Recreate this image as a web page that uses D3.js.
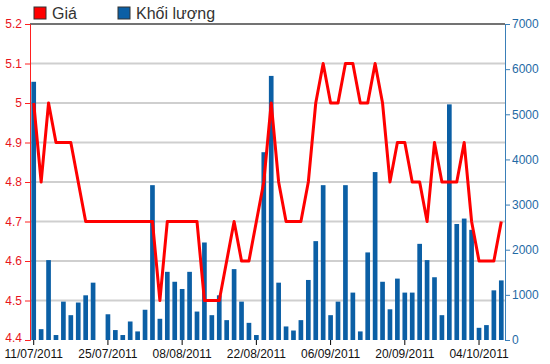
<!DOCTYPE html>
<html>
<head>
<meta charset="utf-8">
<script src="https://cdn.jsdelivr.net/npm/d3@7"></script>
<style>
  body { margin: 0; background: #fff; }
  svg { font-family: "Liberation Sans", Arial, sans-serif; }
</style>
</head>
<body>
<div id="chart"></div>
<script>
// trading days shown on the chart
const dates = [
  '11/07/2011','12/07/2011','13/07/2011','14/07/2011','15/07/2011',
  '18/07/2011','19/07/2011','20/07/2011','21/07/2011','22/07/2011',
  '25/07/2011','26/07/2011','27/07/2011','28/07/2011','29/07/2011',
  '01/08/2011','02/08/2011','03/08/2011','04/08/2011','05/08/2011',
  '08/08/2011','09/08/2011','10/08/2011','11/08/2011','12/08/2011',
  '15/08/2011','16/08/2011','17/08/2011','18/08/2011','19/08/2011',
  '22/08/2011','23/08/2011','24/08/2011','25/08/2011','26/08/2011',
  '29/08/2011','30/08/2011','31/08/2011','01/09/2011','05/09/2011',
  '06/09/2011','07/09/2011','08/09/2011','09/09/2011','12/09/2011',
  '13/09/2011','14/09/2011','15/09/2011','16/09/2011','19/09/2011',
  '20/09/2011','21/09/2011','22/09/2011','23/09/2011','26/09/2011',
  '27/09/2011','28/09/2011','29/09/2011','30/09/2011','03/10/2011',
  '04/10/2011','05/10/2011','06/10/2011','07/10/2011'
];
const tickDates = ['11/07/2011','25/07/2011','08/08/2011','22/08/2011','06/09/2011','20/09/2011','04/10/2011'];

const price = [
  5.0, 4.8, 5.0, 4.9, 4.9, 4.9, 4.8, 4.7, 4.7, 4.7,
  4.7, 4.7, 4.7, 4.7, 4.7, 4.7, 4.7, 4.5, 4.7, 4.7,
  4.7, 4.7, 4.7, 4.5, 4.5, 4.5, 4.6, 4.7, 4.6, 4.6,
  4.7, 4.8, 5.0, 4.8, 4.7, 4.7, 4.7, 4.8, 5.0, 5.1,
  5.0, 5.0, 5.1, 5.1, 5.0, 5.0, 5.1, 5.0, 4.8, 4.9,
  4.9, 4.8, 4.8, 4.7, 4.9, 4.8, 4.8, 4.8, 4.9, 4.7,
  4.6, 4.6, 4.6, 4.7
];
const volume = [
  5720, 240, 1770, 110, 850, 550, 830, 990, 1270, 0,
  570, 220, 110, 410, 190, 670, 3430, 470, 1510, 1290,
  1130, 1510, 630, 2160, 550, 990, 440, 1570, 850, 380,
  110, 4160, 5850, 1270, 300, 210, 440, 1330, 2190, 3430,
  550, 850, 3430, 1050, 190, 1940, 3720, 1290, 680, 1360,
  1050, 1050, 2130, 1770, 1390, 550, 5220, 2570, 2690, 2440,
  270, 330, 1100, 1320
];
const priceTicks = [4.4, 4.5, 4.6, 4.7, 4.8, 4.9, 5.0, 5.1, 5.2];
const volumeTicks = [0, 1000, 2000, 3000, 4000, 5000, 6000, 7000];
const legendItems = [
  { label: 'Giá', color: '#ff0000' },
  { label: 'Khối lượng', color: '#0b5fa5' }
];

const W = 550, H = 364;
const margin = { top: 24, right: 45, bottom: 24, left: 30 };
const width = W - margin.left - margin.right;
const height = H - margin.top - margin.bottom;

const svg = d3.select('#chart').append('svg')
  .attr('width', W)
  .attr('height', H);

const g = svg.append('g')
  .attr('transform', 'translate(' + margin.left + ',' + margin.top + ')');

const x = d3.scaleBand()
  .domain(dates)
  .range([0, width])
  .paddingInner(0.37)
  .paddingOuter(0.185);

const yPrice = d3.scaleLinear().domain([4.4, 5.2]).range([height, 0]);
const yVol = d3.scaleLinear().domain([0, 7000]).range([height, 0]);

// grid lines
g.append('g')
  .selectAll('line')
  .data(priceTicks.slice(1, -1))
  .enter().append('line')
  .attr('x1', 0)
  .attr('x2', width)
  .attr('y1', d => yPrice(d))
  .attr('y2', d => yPrice(d))
  .attr('stroke', '#cfcfcf')
  .attr('stroke-width', 2);

// volume bars
g.append('g')
  .selectAll('rect')
  .data(volume)
  .enter().append('rect')
  .attr('x', (d, i) => x(dates[i]))
  .attr('width', x.bandwidth())
  .attr('y', d => yVol(d))
  .attr('height', d => height - yVol(d))
  .attr('fill', '#0b5fa5');

// price line
const line = d3.line()
  .x((d, i) => x(dates[i]) + x.bandwidth() / 2)
  .y(d => yPrice(d));

g.append('path')
  .datum(price)
  .attr('d', line)
  .attr('fill', 'none')
  .attr('stroke', '#ff0000')
  .attr('stroke-width', 3)
  .attr('stroke-linejoin', 'round');

// top border
g.append('line')
  .attr('x1', 0).attr('x2', width)
  .attr('y1', 0).attr('y2', 0)
  .attr('stroke', '#444')
  .attr('stroke-width', 1.5);

// left axis
const leftAxis = g.append('g')
  .call(d3.axisLeft(yPrice).tickValues(priceTicks).tickFormat(d3.format('')).tickSize(5).tickPadding(3));
leftAxis.select('.domain').attr('stroke', '#ff2020');
leftAxis.selectAll('.tick line').attr('stroke', '#ff2020');
leftAxis.selectAll('text').attr('fill', '#e8141c').style('font-size', '12px').style('font-family', '"Liberation Sans", Arial, sans-serif');
// lift the lowest label a touch so it clears the first date
leftAxis.selectAll('.tick').filter(d => d === 4.4).select('text').attr('dy', '0.1em');

// right axis
const rightAxis = g.append('g')
  .attr('transform', 'translate(' + width + ',0)')
  .call(d3.axisRight(yVol).tickValues(volumeTicks).tickFormat(d3.format('d')).tickSize(5).tickPadding(2));
rightAxis.select('.domain').attr('stroke', '#3a7fb8');
rightAxis.selectAll('.tick line').attr('stroke', '#3a7fb8');
rightAxis.selectAll('text').attr('fill', '#1f6aa5').style('font-size', '12px').style('font-family', '"Liberation Sans", Arial, sans-serif');

// bottom axis
const bottomAxis = g.append('g')
  .attr('transform', 'translate(0,' + height + ')')
  .call(d3.axisBottom(x).tickValues(tickDates).tickSize(5).tickPadding(4));
bottomAxis.select('.domain').remove();
bottomAxis.selectAll('.tick line').attr('stroke', '#000');
bottomAxis.selectAll('text').attr('fill', '#111').style('font-size', '12px').style('font-family', '"Liberation Sans", Arial, sans-serif');

// legend
const legend = svg.append('g');
const legendX = [34, 118];
legendItems.forEach((item, i) => {
  legend.append('rect')
    .attr('x', legendX[i])
    .attr('y', 7)
    .attr('width', 12)
    .attr('height', 12)
    .attr('fill', item.color)
    .attr('stroke', '#333')
    .attr('stroke-width', 1);
  legend.append('text')
    .attr('x', legendX[i] + 18)
    .attr('y', 19)
    .attr('fill', '#333')
    .style('font-size', '16px')
    .text(item.label);
});
</script>
</body>
</html>
